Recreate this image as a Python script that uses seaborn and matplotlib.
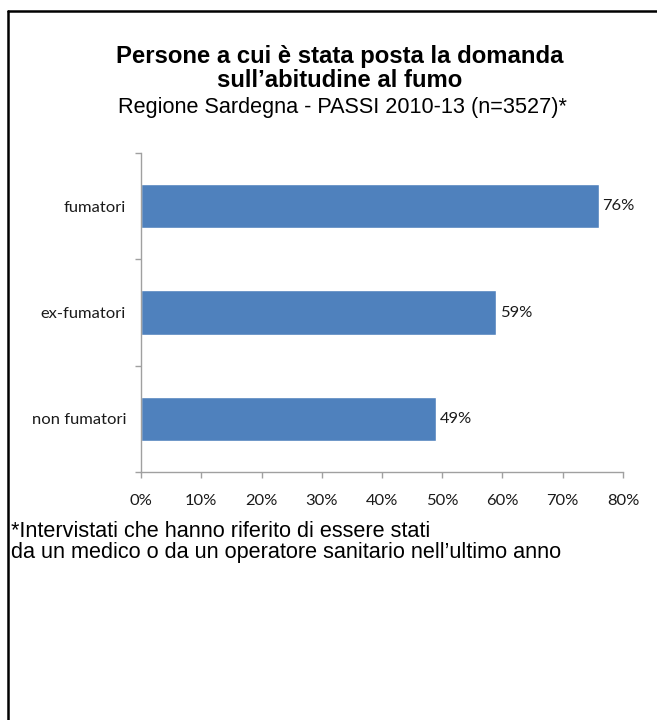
import matplotlib
matplotlib.use("Agg")
import matplotlib.pyplot as plt
import seaborn as sns
import pandas as pd
from matplotlib.ticker import FixedLocator, FuncFormatter

# Data
categories = ["fumatori", "ex-fumatori", "non fumatori"]
values = [76, 59, 49]
x_ticks = [0, 10, 20, 30, 40, 50, 60, 70, 80]

title_lines = ["Persone a cui è stata posta la domanda", "sull\u2019abitudine al fumo"]
subtitle = "Regione Sardegna - PASSI 2010-13 (n=3527)*"
footnote = ["*Intervistati che hanno riferito di essere stati",
            "da un medico o da un operatore sanitario nell\u2019ultimo anno"]

df = pd.DataFrame({"categoria": categories, "percentuale": values})

sns.set_theme(style="white")
plt.rcParams["font.family"] = ["Lato", "DejaVu Sans"]

W, H = 657, 720
fig = plt.figure(figsize=(W / 100, H / 100), dpi=100)
fig.patch.set_facecolor("white")
renderer = fig.canvas.get_renderer()

tfam = ["Liberation Sans", "DejaVu Sans"]
lfam = ["Lato", "DejaVu Sans"]


def size_for(text, width_px, family, weight="normal"):
    """Font size (pt) that gives the text the requested pixel width."""
    t = fig.text(0, 0, text, fontsize=20, family=family, fontweight=weight)
    w = t.get_window_extent(renderer).width
    t.remove()
    return 20 * width_px / w


def ypx(y):
    return 1 - y / H


# axes box in pixel coordinates
x0, x1, y_top, y_bot = 141, 623, 153, 472
ax = fig.add_axes([x0 / W, ypx(y_bot), (x1 - x0) / W, (y_bot - y_top) / H])

bar_color = "#4F81BD"
sns.barplot(data=df, x="percentuale", y="categoria", order=categories,
            color=bar_color, width=0.42, saturation=1, ax=ax, orient="h")

ax.set_xlim(0, 80)
ax.set_ylim(2.5, -0.5)
ax.set_xlabel("")
ax.set_ylabel("")

label_size = size_for("fumatori", 62, lfam)
label_col = "#1a1a1a"

axis_col = "#A0A0A0"
for side in ["top", "right"]:
    ax.spines[side].set_visible(False)
for side in ["left", "bottom"]:
    ax.spines[side].set_visible(True)
    ax.spines[side].set_color(axis_col)
    ax.spines[side].set_linewidth(1.0)

ax.xaxis.set_major_locator(FixedLocator(x_ticks))
ax.xaxis.set_major_formatter(FuncFormatter(lambda v, p: f"{int(v)}%"))
ax.tick_params(axis="x", which="major", length=4.5, width=1.0, color=axis_col,
               direction="out", pad=11.5, labelsize=label_size,
               labelcolor=label_col, bottom=True)
for lab in ax.get_xticklabels():
    lab.set_family(lfam)

ax.set_yticks(range(len(categories)))
ax.set_yticklabels(categories, family=lfam)
ax.set_yticks([-0.5, 0.5, 1.5, 2.5], minor=True)
ax.tick_params(axis="y", which="major", length=0, pad=10.8,
               labelsize=label_size, labelcolor=label_col, left=False)
ax.tick_params(axis="y", which="minor", length=4.5, width=1.0, color=axis_col,
               direction="out", left=True)

# value labels at the end of each bar
for i, v in enumerate(values):
    ax.text(v + 0.55, i, f"{v}%", va="center", ha="left",
            fontsize=label_size, color=label_col, family=lfam)

# titles
title_size = size_for(title_lines[1], 245, tfam, "bold")
sub_size = size_for(subtitle, 449, tfam)
fig.text(340 / W, ypx(63), title_lines[0], ha="center", va="baseline",
         fontsize=title_size, fontweight="bold", family=tfam, color="black")
fig.text(340 / W, ypx(87), title_lines[1], ha="center", va="baseline",
         fontsize=title_size, fontweight="bold", family=tfam, color="black")
fig.text(342 / W, ypx(113), subtitle, ha="center", va="baseline",
         fontsize=sub_size, family=tfam, color="black")

# footnote
foot_size = size_for(footnote[1], 548, tfam)
fig.text(11 / W, ypx(537), footnote[0], ha="left", va="baseline",
         fontsize=foot_size, family=tfam, color="black")
fig.text(11 / W, ypx(558), footnote[1], ha="left", va="baseline",
         fontsize=foot_size, family=tfam, color="black")

# frame lines on the top and left edges
fig.add_artist(plt.Line2D([8 / W, 1], [ypx(11), ypx(11)], color="black",
                          lw=1.8, transform=fig.transFigure))
fig.add_artist(plt.Line2D([8 / W, 8 / W], [ypx(11), 0], color="black",
                          lw=1.8, transform=fig.transFigure))

fig.savefig("out.png", dpi=100)
